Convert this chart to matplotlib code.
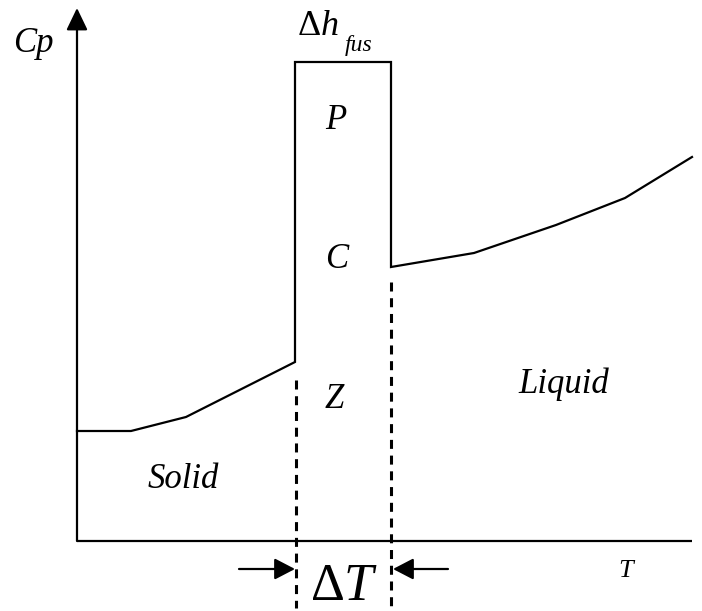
"""Heat capacity sketch across melting: solid, fusion peak, liquid."""

import matplotlib

matplotlib.use("Agg")
import matplotlib.pyplot as plt
from matplotlib.patches import FancyArrowPatch

plt.rcParams["mathtext.fontset"] = "custom"
plt.rcParams["mathtext.rm"] = "Liberation Serif"
plt.rcParams["mathtext.it"] = "Liberation Serif:italic"

SERIF = "Liberation Serif"

# curve (T, Cp in drawing units, origin at axes corner)
temp = [0, 54, 109, 218, 218, 314, 314, 397, 479, 548, 615]
cp = [110, 110, 124, 179, 479, 479, 274, 288, 316, 343, 384]

# melting range edges and where the dashed guides start
melt_edges = [219, 314]
guide_tops = [161, 259]

# labels inside the peak
peak_letters = ["P", "C", "Z"]
peak_letter_cp = [412, 273, 133]

T_MAX, CP_MAX = 615, 533


def main() -> None:
    fig = plt.figure(figsize=(7.02, 6.11), dpi=100)
    ax = fig.add_axes([0, 0, 1, 1])
    ax.set_xlim(-77, 625)
    ax.set_ylim(-70, 541)
    ax.axis("off")

    # axes: T along the bottom, Cp with an arrow head
    ax.plot([0, T_MAX], [0, 0], color="black", lw=1.6, solid_capstyle="butt")
    ax.add_patch(FancyArrowPatch((0, 0), (0, CP_MAX),
                                 arrowstyle="-|>,head_length=1.35,head_width=0.65",
                                 mutation_scale=10, color="black", lw=1.6,
                                 shrinkA=0, shrinkB=0))

    ax.plot(temp, cp, color="black", lw=1.6, solid_joinstyle="miter")

    for x, top in zip(melt_edges, guide_tops):
        ax.plot([x, x], [top, -67], color="black", lw=2.2,
                linestyle=(0, (2.95, 2.2)))

    # inward arrows marking delta T
    arrow_y = -28
    for start, end in [(162, 218), (371, 316)]:
        ax.add_patch(FancyArrowPatch((start, arrow_y), (end, arrow_y),
                                     arrowstyle="-|>,head_length=1.25,head_width=0.65",
                                     mutation_scale=10, color="black", lw=1.6,
                                     shrinkA=0, shrinkB=0))

    text_kw = dict(family=SERIF, style="italic", ha="left", va="baseline")
    ax.text(-64, 489, "Cp", fontsize=25, **text_kw)
    ax.text(220, 506, r"$\Delta h$", fontsize=26, family=SERIF, ha="left", va="baseline")
    ax.text(268, 490, "fus", fontsize=17, **text_kw)
    for letter, y in zip(peak_letters, peak_letter_cp):
        ax.text(248, y, letter, fontsize=25, **text_kw)
    ax.text(441, 148, "Liquid", fontsize=25, **text_kw)
    ax.text(71, 53, "Solid", fontsize=25, **text_kw)
    ax.text(541, -36, "T", fontsize=19, **text_kw)
    ax.text(233, -59, r"$\Delta T$", fontsize=38, family=SERIF, ha="left", va="baseline")

    fig.savefig("out.png", dpi=100)
    plt.close(fig)


if __name__ == "__main__":
    main()
